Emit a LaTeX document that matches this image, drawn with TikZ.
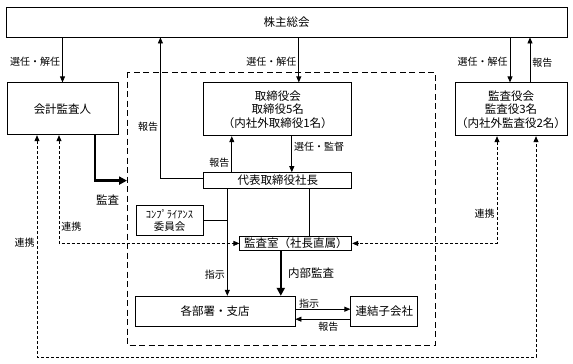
\documentclass[tikz,border=0pt]{standalone}
\usepackage{fontspec}
\setmainfont{Noto Sans CJK JP}
\usetikzlibrary{arrows.meta, positioning}
\newcommand\boxfont{\fontsize{11.5}{13.5}\selectfont}
\newcommand\lblfont{\fontsize{10}{12}\selectfont}
\def\selsep{45pt}

\begin{document}
\begin{tikzpicture}[x=1pt, y=-1pt, >=Triangle]

  \tikzset{
    box/.style = {
      rectangle, draw, line width=0.8pt, inner sep=0pt,
      align=center, font=\boxfont, fill=white
    },
    lbl/.style = {
      font=\lblfont, inner sep=2pt
    },
    biglbl/.style = {
      font=\boxfont, inner sep=2pt
    },
    flow/.style = {
      -{Triangle[length=6pt, width=5pt]}, line width=0.8pt
    },
    heavyflow/.style = {
      -{Triangle[length=8pt, width=8pt]}, line width=2.4pt
    },
    coop/.style = {
      {Triangle[length=6pt, width=5pt]}-{Triangle[length=6pt, width=5pt]},
      line width=0.8pt, dash pattern=on 3pt off 2pt
    },
    frame/.style = {
      line width=0.8pt, dash pattern=on 6pt off 3.5pt
    }
  }

  \useasboundingbox (0,0) rectangle (573,364);

  % --- Top row -----------------------------------------------------------------
  \node (gm) [box, minimum width=561pt, minimum height=30pt] at (286.5,22) {株主総会};

  \node (cpa)   [box, minimum width=111pt, minimum height=52pt,
                 below right=\selsep and 1pt of gm.south west] {会計監査人};
  \node (board) [box, minimum width=148pt, minimum height=53pt,
                 right=85pt of cpa.north east, anchor=north west]
    {取締役会\\取締役5名\\（内社外取締役1名）};
  \node (kansa) [box, minimum width=112pt, minimum height=53pt,
                 below left=\selsep and 0pt of gm.south east]
    {監査役会\\監査役3名\\（内社外監査役2名）};

  % --- Inside the company --------------------------------------------------------
  \node (pres)    [box, minimum width=148pt, minimum height=16pt,
                   below=36pt of board] {代表取締役社長};
  \node (comp)    [box, minimum width=67pt, minimum height=30pt,
                   font=\fontsize{10.5}{12}\selectfont,
                   below left=16pt and 0pt of pres.south west] {ｺﾝﾌﾟﾗｲｱﾝｽ\\委員会};
  \node (aoffice) [box, minimum width=112pt, minimum height=14pt,
                   below left=47pt and 0pt of pres.south east] {監査室（社長直属）};
  \node (dept)    [box, minimum width=160pt, minimum height=30pt,
                   below=60pt of comp.south west, anchor=north west, xshift=-1pt]
    {各部署・支店};
  \node (sub)     [box, minimum width=67pt, minimum height=30pt,
                   right=55pt of dept] {連結子会社};

  \coordinate (fnw) at (127,72);
  \coordinate (fse) at (435,345);
  \coordinate (coopbase) at (286,357);
  \draw [frame] (fnw) rectangle (fse);

  % connector feet
  \coordinate (selboard) at ([xshift=21pt]board.north);
  \coordinate (selkansa) at ([xshift=-1pt]kansa.north);
  \coordinate (repkansa) at ([xshift=19pt]kansa.north);
  \coordinate (reppres)  at ([xshift=-43pt, yshift=2pt]pres.west);
  \coordinate (repboard) at ([xshift=-46pt]pres.north);
  \coordinate (supboard) at ([xshift=14pt]board.south);
  \coordinate (instr)    at ([xshift=-50.5pt]pres.south);
  \coordinate (toaudit)  at ([xshift=31.5pt]pres.south);
  \coordinate (inaudit)  at ([xshift=-15pt]aoffice.south);
  \coordinate (extaudit) at ([xshift=32.5pt]cpa.south);
  \coordinate (coopcpa)  at ([xshift=-3.5pt]cpa.south);
  \coordinate (coopks)   at ([xshift=-14pt]kansa.south);
  \coordinate (loopcpa)  at ([xshift=-25.5pt]cpa.south);
  \coordinate (loopks)   at ([xshift=25pt]kansa.south);
  \coordinate (orderout) at ([yshift=2pt]dept.east);
  \coordinate (reportin) at ([yshift=-8pt]sub.west);

  % --- Election and reporting to the general meeting ----------------------------
  \draw [flow] (cpa.north |- gm.south)
    -- node [lbl, left, pos=0.55] {選任・解任} (cpa.north);
  \draw [flow] (selboard |- gm.south)
    -- node [lbl, left, pos=0.55] {選任・解任} (selboard);
  \draw [flow] (selkansa |- gm.south)
    -- node [lbl, left, pos=0.55] {選任・解任} (selkansa);
  \draw [flow] (repkansa)
    -- node [lbl, right, pos=0.44] {報告} (repkansa |- gm.south);
  \draw [flow] ([yshift=2pt]pres.west)
    -| node [lbl, left, pos=0.683] {報告} (reppres |- gm.south);

  % --- Board and president ------------------------------------------------------
  \draw [flow] (repboard)
    -- node [lbl, left, pos=0.25] {報告} (repboard |- board.south);
  \draw [flow] (supboard)
    -- node [lbl, right, pos=0.28] {選任・監督} (supboard |- pres.north);

  % --- Instructions and internal audit -------------------------------------------
  \draw [flow] (instr)
    -- node [lbl, left, pos=0.8] {指示} (instr |- dept.north);
  \draw [line width=0.8pt] (comp.east) -- (comp.east -| instr);
  \draw [line width=0.8pt] (toaudit) -- (toaudit |- aoffice.north);
  \draw [heavyflow] (inaudit)
    -- node [biglbl, right, pos=0.49, xshift=4pt] {内部監査} (inaudit |- dept.north);
  \draw [flow] (orderout)
    -- node [lbl, above, pos=0.25, inner sep=1pt] {指示} (orderout -| sub.west);
  \draw [flow] (reportin)
    -- node [lbl, below, pos=0.4] {報告} (reportin -| dept.east);

  % --- External audit ------------------------------------------------------------
  \draw [heavyflow] (extaudit)
    |- node [biglbl, pos=0.5, below right=11pt and -2pt] {監査} (fnw |- pres.west);

  % --- Cooperation (dotted) -----------------------------------------------------
  \draw [coop] (coopcpa)
    |- node [lbl, right, pos=0.425] {連携} (aoffice.west);
  \draw [coop] (coopks)
    |- node [lbl, left, pos=0.363] {連携} (aoffice.east);
  \draw [coop] (loopcpa)
    |- node [lbl, left, pos=0.242] {連携} (coopbase)
    -| (loopks);

\end{tikzpicture}
\end{document}
